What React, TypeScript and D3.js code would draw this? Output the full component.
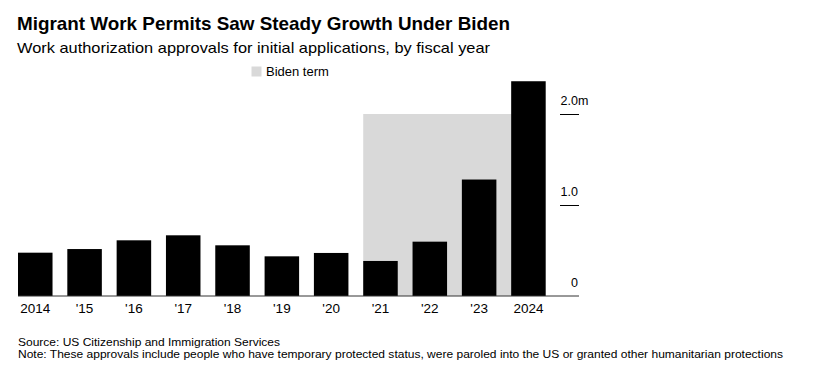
import React, { useEffect, useRef } from 'react';
import * as d3 from 'd3';

// fiscal years and approvals (millions)
const years = ['2014', '2015', '2016', '2017', '2018', '2019', '2020', '2021', '2022', '2023', '2024'];
const yearLabels = ['2014', "'15", "'16", "'17", "'18", "'19", "'20", "'21", "'22", "'23", '2024'];
const approvals = [0.476, 0.516, 0.612, 0.667, 0.557, 0.436, 0.473, 0.385, 0.597, 1.28, 2.36];
const bidenYears = ['2021', '2024'];
const yTicks = [0, 1, 2];
const yTickLabels = ['0', '1.0', '2.0'];

const FONT = '"Liberation Sans", Arial, Helvetica, sans-serif';

const App = () => {
  const svgRef = useRef<SVGSVGElement>(null);

  useEffect(() => {
    const width = 832;
    const height = 374;

    const svg = d3.select(svgRef.current);
    svg.selectAll('*').remove();
    svg.attr('width', width).attr('height', height);

    // scales
    const x = d3.scaleBand()
      .domain(years)
      .range([18, 545.7])
      .paddingInner(0.3)
      .paddingOuter(0);

    const y = d3.scaleLinear()
      .domain([0, 2])
      .range([296, 114]);

    // Biden term shading
    svg.append('rect')
      .attr('x', x(bidenYears[0]))
      .attr('y', y(2))
      .attr('width', x(bidenYears[1]) + x.bandwidth() / 2 - x(bidenYears[0]))
      .attr('height', y(0) - y(2))
      .attr('fill', '#d9d9d9');

    // bars
    svg.selectAll('.bar')
      .data(years)
      .enter()
      .append('rect')
      .attr('class', 'bar')
      .attr('x', d => x(d))
      .attr('y', (d, i) => y(approvals[i]))
      .attr('width', x.bandwidth())
      .attr('height', (d, i) => y(0) - y(approvals[i]))
      .attr('fill', '#000');

    // baseline
    svg.append('line')
      .attr('x1', 18).attr('x2', 579)
      .attr('y1', y(0)).attr('y2', y(0))
      .attr('stroke', '#333')
      .attr('stroke-width', 1);

    // y ticks on the right
    const yAxis = svg.append('g').attr('font-family', FONT).attr('font-size', 12.5);
    yTicks.forEach((t, i) => {
      if (t !== 0) {
        yAxis.append('line')
          .attr('x1', 560).attr('x2', 579)
          .attr('y1', y(t) + 0.5).attr('y2', y(t) + 0.5)
          .attr('stroke', '#000');
      }
      yAxis.append('text')
        .attr('x', 578)
        .attr('y', y(t) - 9)
        .attr('text-anchor', 'end')
        .text(yTickLabels[i]);
      if (i === yTicks.length - 1) {
        yAxis.append('text')
          .attr('x', 578)
          .attr('y', y(t) - 9)
          .text('m');
      }
    });

    // x labels
    svg.append('g')
      .selectAll('text')
      .data(years)
      .enter()
      .append('text')
      .attr('x', d => x(d) + x.bandwidth() / 2)
      .attr('y', 313)
      .attr('text-anchor', 'middle')
      .attr('font-family', FONT)
      .attr('font-size', 13.5)
      .text((d, i) => yearLabels[i]);

    // legend
    svg.append('rect')
      .attr('x', 251.5).attr('y', 66.5)
      .attr('width', 10).attr('height', 10)
      .attr('fill', '#d9d9d9');
    svg.append('text')
      .attr('x', 266).attr('y', 76)
      .attr('font-family', FONT).attr('font-size', 13)
      .text('Biden term');

    // title and subtitle
    svg.append('text')
      .attr('x', 17).attr('y', 30)
      .attr('font-family', FONT).attr('font-size', 19).attr('font-weight', 'bold')
      .attr('textLength', 493).attr('lengthAdjust', 'spacingAndGlyphs')
      .text('Migrant Work Permits Saw Steady Growth Under Biden');
    svg.append('text')
      .attr('x', 17).attr('y', 53)
      .attr('font-family', FONT).attr('font-size', 14.5)
      .attr('textLength', 473).attr('lengthAdjust', 'spacingAndGlyphs')
      .text('Work authorization approvals for initial applications, by fiscal year');

    // footer
    svg.append('text')
      .attr('x', 18).attr('y', 345.5)
      .attr('font-family', FONT).attr('font-size', 11)
      .attr('textLength', 262).attr('lengthAdjust', 'spacingAndGlyphs')
      .text('Source: US Citizenship and Immigration Services');
    svg.append('text')
      .attr('x', 18).attr('y', 358)
      .attr('font-family', FONT).attr('font-size', 11)
      .attr('textLength', 765).attr('lengthAdjust', 'spacingAndGlyphs')
      .text('Note: These approvals include people who have temporary protected status, were paroled into the US or granted other humanitarian protections');
  }, []);

  return (
    <svg ref={svgRef} style={{ position: 'absolute', left: 0, top: 0, background: '#fff' }} />
  );
};

export default App;
